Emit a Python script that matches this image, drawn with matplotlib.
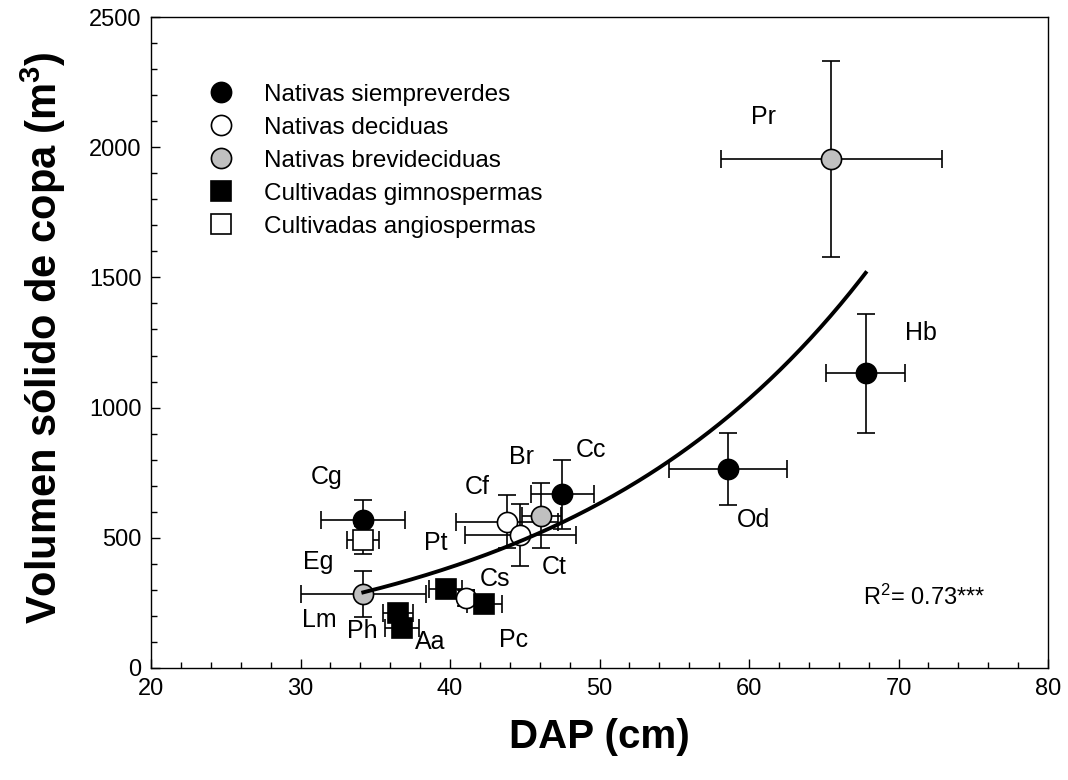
import numpy as np
import matplotlib
matplotlib.use("Agg")
import matplotlib.pyplot as plt

plt.rcParams['font.family'] = ['Liberation Sans', 'DejaVu Sans']
plt.rcParams['mathtext.default'] = 'regular'

# species means (DAP in cm, crown volume in m3) with error bars
groups = ["Nativas siempreverdes", "Nativas deciduas", "Nativas brevideciduas",
          "Cultivadas gimnospermas", "Cultivadas angiospermas"]

sp_siempre = ["Cg", "Cc", "Od", "Hb"]
dap_siempre = [34.2, 47.5, 58.6, 67.8]
dap_err_siempre = [2.8, 2.1, 3.95, 2.65]
vol_siempre = [568, 667, 764, 1132]
vol_err_siempre = [77, 133, 137, 228]

sp_decid = ["Cf", "Ct", "Cs"]
dap_decid = [43.8, 44.7, 41.1]
dap_err_decid = [3.4, 3.7, 0.5]
vol_decid = [562, 511, 269]
vol_err_decid = [102, 119, 30]

sp_brevi = ["Lm", "Br", "Pr"]
dap_brevi = [34.2, 46.1, 65.5]
dap_err_brevi = [4.2, 1.3, 7.4]
vol_brevi = [284, 584, 1955]
vol_err_brevi = [88, 125, 377]

sp_gimno = ["Ph", "Aa", "Pt", "Pc"]
dap_gimno = [36.5, 36.8, 39.7, 42.3]
dap_err_gimno = [1.0, 1.15, 1.1, 1.15]
vol_gimno = [211, 152, 303, 247]
vol_err_gimno = [30, 30, 30, 25]

sp_angio = ["Eg"]
dap_angio = [34.2]
dap_err_angio = [1.07]
vol_angio = [491]
vol_err_angio = [54]

# exponential fit V = a * exp(b * DAP)
fit_a = 54.0
fit_b = 0.0492
fit_xmin, fit_xmax = 34.2, 67.8
r2_text = "R$^2$= 0.73***"

# label positions (data coords)
lab_names = ["Pr", "Hb", "Cc", "Br", "Cf", "Cg", "Eg", "Pt", "Ct", "Cs", "Lm", "Ph", "Aa", "Pc", "Od"]
lab_x = [61.0, 71.5, 49.4, 44.8, 41.8, 31.75, 31.2, 39.05, 47.0, 43.0, 31.25, 34.1, 38.65, 44.25, 60.3]
lab_y = [2116, 1286, 837, 811, 696, 735, 408, 479, 389, 341, 184, 143, 101, 107, 568]

fig = plt.figure(figsize=(10.68, 7.8), dpi=100)
ax = fig.add_axes([0.1414, 0.1436, 0.8399, 0.8346])

styles = [("o", "black"), ("o", "white"), ("o", "#c0c0c0"), ("s", "black"), ("s", "white")]
data = [
    (dap_siempre, vol_siempre, dap_err_siempre, vol_err_siempre),
    (dap_decid, vol_decid, dap_err_decid, vol_err_decid),
    (dap_brevi, vol_brevi, dap_err_brevi, vol_err_brevi),
    (dap_gimno, vol_gimno, dap_err_gimno, vol_err_gimno),
    (dap_angio, vol_angio, dap_err_angio, vol_err_angio),
]

handles = []
for (mk, fc), (x, y, xe, ye), name in zip(styles, data, groups):
    c = ax.errorbar(x, y, xerr=xe, yerr=ye, fmt=mk, mfc=fc, mec="black", mew=1.2,
                    ms=14.5, ecolor="black", elinewidth=1.2, capsize=6.5, capthick=1.2,
                    label=name, zorder=2)
    handles.append(c[0])

xf = np.linspace(fit_xmin, fit_xmax, 200)
ax.plot(xf, fit_a * np.exp(fit_b * xf), color="black", lw=2.8, zorder=3)

for n, lx, ly in zip(lab_names, lab_x, lab_y):
    ax.text(lx, ly, n, fontsize=18, ha="center", va="center")

ax.text(67.6, 273, r2_text, fontsize=17, ha="left", va="center")

ax.legend(handles, groups, loc="upper left", bbox_to_anchor=(0.0645, 0.8974),
          frameon=False, fontsize=17.5, handlelength=1.0, handletextpad=1.25,
          labelspacing=0.45, borderaxespad=0, borderpad=0)

ax.set_xlim(20, 80)
ax.set_ylim(0, 2500)
ax.set_xticks(np.arange(20, 81, 10))
ax.set_xticks(np.arange(20, 81, 2), minor=True)
ax.set_yticks(np.arange(0, 2501, 500))
ax.set_yticks(np.arange(0, 2501, 100), minor=True)
ax.tick_params(which="both", direction="in", top=False, right=False, labelsize=17)
ax.tick_params(which="major", length=6.5, width=1.0, pad=7)
ax.tick_params(which="minor", length=4, width=1.0)
for s in ax.spines.values():
    s.set_linewidth(1.0)

ax.set_xlabel("DAP (cm)", fontsize=29, fontweight="bold")
ax.set_ylabel("Volumen sólido de copa (m$^3$)", fontsize=30, fontweight="bold")
ax.xaxis.set_label_coords(0.5, -0.077)
ax.yaxis.set_label_coords(-0.093, 0.508)

fig.savefig("out.png", dpi=100)
